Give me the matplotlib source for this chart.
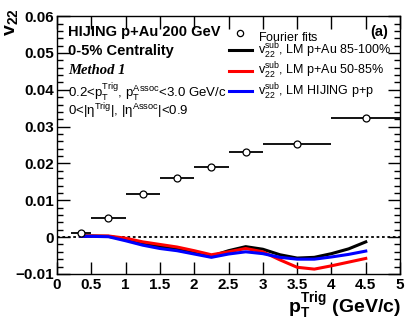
import matplotlib
matplotlib.use("Agg")
import matplotlib.pyplot as plt
from matplotlib.ticker import MultipleLocator
from matplotlib.lines import Line2D

plt.rcParams['font.family'] = ['Liberation Sans', 'DejaVu Sans']
plt.rcParams['mathtext.fontset'] = 'custom'
plt.rcParams['mathtext.rm'] = 'Liberation Sans'
plt.rcParams['mathtext.it'] = 'Liberation Sans:italic'
plt.rcParams['mathtext.bf'] = 'Liberation Sans:bold'

# Fourier fit points
pt_fit = [0.35, 0.75, 1.25, 1.75, 2.25, 2.75, 3.5, 4.5]
pt_lo = [0.2, 0.5, 1.0, 1.5, 2.0, 2.5, 3.0, 4.0]
pt_hi = [0.5, 1.0, 1.5, 2.0, 2.5, 3.0, 4.0, 5.0]
v22_fit = [0.0011, 0.0051, 0.0117, 0.0161, 0.0191, 0.0231, 0.0252, 0.0324]

# LM-subtracted curves
pt_curve = [0.35, 0.5, 0.75, 1.0, 1.25, 1.5, 1.75, 2.0, 2.25, 2.5, 2.75,
            3.0, 3.25, 3.5, 3.75, 4.0, 4.25, 4.5]
v22_pau_85_100 = [0.0003, 0.0003, 0.0002, -0.0006, -0.0017, -0.0025, -0.0032,
                  -0.0042, -0.0052, -0.0037, -0.0026, -0.0033, -0.0048,
                  -0.0057, -0.0055, -0.0045, -0.0032, -0.0013]
v22_pau_50_85 = [0.0003, 0.0003, 0.0003, -0.0003, -0.0013, -0.0020, -0.0027,
                 -0.0037, -0.0048, -0.0040, -0.0031, -0.0040, -0.0062,
                 -0.0082, -0.0087, -0.0078, -0.0068, -0.0058]
v22_pp = [0.0002, 0.0002, 0.0001, -0.0010, -0.0022, -0.0031, -0.0037,
          -0.0046, -0.0055, -0.0046, -0.0040, -0.0045, -0.0055, -0.0060,
          -0.0060, -0.0054, -0.0047, -0.0038]

x_ticks = [0, 0.5, 1, 1.5, 2, 2.5, 3, 3.5, 4, 4.5, 5]
x_ticklabels = ['0', '0.5', '1', '1.5', '2', '2.5', '3', '3.5', '4', '4.5', '5']
y_ticks = [-0.01, 0, 0.01, 0.02, 0.03, 0.04, 0.05, 0.06]
y_ticklabels = ['\u22120.01', '0', '0.01', '0.02', '0.03', '0.04', '0.05', '0.06']

fig = plt.figure(figsize=(4.07, 3.23), dpi=100)
ax = fig.add_axes([0.140, 0.152, 0.843, 0.798])

ax.axhline(0, color='black', ls=(0, (1.5, 1.5)), lw=1.3, zorder=1)

xerr = [[c - l for c, l in zip(pt_fit, pt_lo)], [h - c for c, h in zip(pt_fit, pt_hi)]]
ax.errorbar(pt_fit, v22_fit, xerr=xerr, fmt='o', mfc='white', mec='black',
            ms=5, mew=0.9, ecolor='black', elinewidth=1.3, capsize=0, zorder=5)

l1, = ax.plot(pt_curve, v22_pau_85_100, color='black', lw=2.2, zorder=3)
l2, = ax.plot(pt_curve, v22_pau_50_85, color='#ff0000', lw=2.2, zorder=3)
l3, = ax.plot(pt_curve, v22_pp, color='#0000ff', lw=2.2, zorder=4)

ax.set_xlim(0, 5)
ax.set_ylim(-0.01, 0.06)
ax.set_xticks(x_ticks, x_ticklabels, fontsize=11, fontweight='bold')
ax.set_yticks(y_ticks, y_ticklabels, fontsize=11, fontweight='bold')
ax.yaxis.set_minor_locator(MultipleLocator(0.002))
ax.tick_params(which='both', direction='in', top=True, right=True, width=1)
ax.tick_params(which='major', length=9)
ax.tick_params(which='minor', length=4.5)
ax.tick_params(axis='x', pad=3)
ax.tick_params(axis='y', pad=2)
for s in ax.spines.values():
    s.set_linewidth(1.0)

fig.text(0.028, 0.975, r'$\mathbf{v}_{\mathbf{22}}$', rotation=90, fontsize=14,
         ha='center', va='top')
fig.text(0.985, 0.003, r'$\mathbf{p}_{\mathbf{T}}^{\mathbf{Trig}}$ (GeV/c)', fontsize=14,
         fontweight='bold', ha='right', va='bottom')

ax.text(0.032, 0.938, 'HIJING p+Au 200 GeV', transform=ax.transAxes, fontsize=10.5,
        fontweight='bold', va='center')
ax.text(0.032, 0.864, '0-5% Centrality', transform=ax.transAxes, fontsize=10.5,
        fontweight='bold', va='center')
ax.text(0.032, 0.79, 'Method 1', transform=ax.transAxes, fontsize=10.5,
        fontweight='bold', fontstyle='italic', family='Liberation Serif', va='center')
ax.text(0.032, 0.705, r'0.2<p$_{\mathrm{T}}^{\mathrm{Trig}}$, p$_{\mathrm{T}}^{\mathrm{Assoc}}$<3.0 GeV/c',
        transform=ax.transAxes, fontsize=9.5, va='center')
ax.text(0.032, 0.632, r'0<|$\mathrm{\eta}^{\mathrm{Trig}}$|, |$\mathrm{\eta}^{\mathrm{Assoc}}$|<0.9',
        transform=ax.transAxes, fontsize=9.5, va='center')
ax.text(0.965, 0.938, '(a)', transform=ax.transAxes, fontsize=10.5, fontweight='bold',
        ha='right', va='center')

hm = Line2D([], [], marker='o', ls='none', mfc='white', mec='black', ms=4.5, mew=0.9)
leg = ax.legend([hm, l1, l2, l3],
                [r'Fourier fits$\mathrm{^{\,}_{\,}}$',
                 r'v$_{22}^{\mathrm{sub}}$, LM p+Au 85-100%',
                 r'v$_{22}^{\mathrm{sub}}$, LM p+Au 50-85%',
                 r'v$_{22}^{\mathrm{sub}}$, LM HIJING p+p'],
                loc='upper left', bbox_to_anchor=(0.50, 0.952), frameon=False,
                fontsize=9, handlelength=1.9, handletextpad=0.45, labelspacing=0.02,
                borderpad=0, borderaxespad=0)

fig.savefig('out.png', dpi=100)
